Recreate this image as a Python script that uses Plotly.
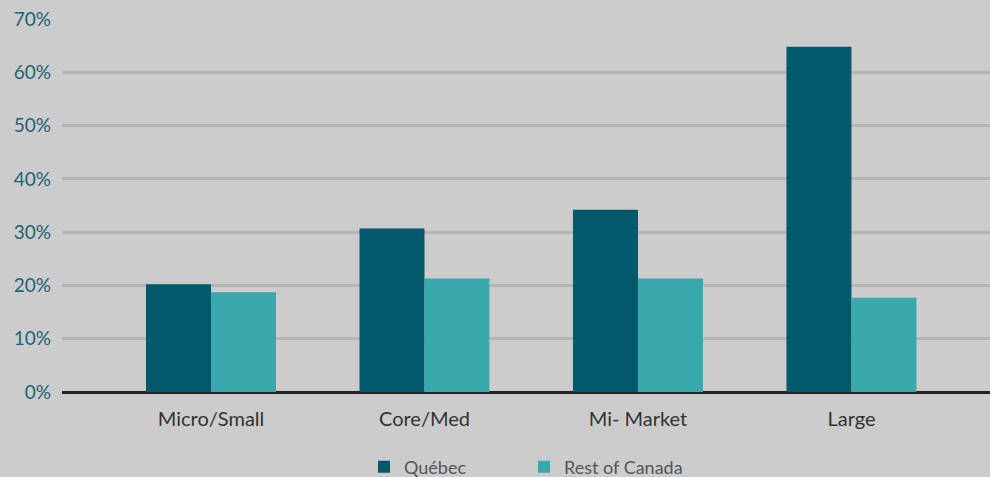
import plotly.graph_objects as go

categories = ["Micro/Small", "Core/Med", "Mi- Market", "Large"]
quebec = [20.2, 30.7, 34.2, 64.8]
rest_of_canada = [18.7, 21.3, 21.3, 17.7]
y_ticks = [0, 10, 20, 30, 40, 50, 60, 70]
y_tick_labels = [f"{v}%" for v in y_ticks]

FONT = "Lato"

fig = go.Figure()
fig.add_trace(go.Bar(name="Québec", x=categories, y=quebec, marker_color="#02596b",
                     marker_line_width=0))
fig.add_trace(go.Bar(name="Rest of Canada", x=categories, y=rest_of_canada,
                     marker_color="#3aa9ae", marker_line_width=0))

fig.update_layout(
    width=990, height=477,
    margin=dict(l=62, r=0, t=19, b=85),
    paper_bgcolor="#cccccc", plot_bgcolor="#cccccc",
    barmode="group", bargap=0.391, bargroupgap=0,
    font=dict(family=FONT, size=19, color="#333333"),
    showlegend=True,
    legend=dict(orientation="h", x=364 / 990, xanchor="left", xref="container",
                y=(477 - 467) / 477, yanchor="middle", yref="container",
                font=dict(family=FONT, size=18, color="#555555"),
                itemsizing="constant", itemwidth=30, traceorder="normal",
                entrywidth=115, entrywidthmode="pixels",
                bgcolor="rgba(0,0,0,0)"),
    xaxis=dict(range=[-0.698, 3.649], showgrid=False, showline=False,
               ticks="", tickfont=dict(family=FONT, size=20, color="#333333"),
               ticklabelstandoff=13),
    yaxis=dict(range=[0, 70], tickvals=y_ticks, ticktext=y_tick_labels,
               showgrid=True, gridcolor="#b4b4b7", gridwidth=2.5,
               zeroline=True, zerolinecolor="#222222", zerolinewidth=3,
               showline=False, ticks="",
               tickfont=dict(family=FONT, size=19, color="#1d6275"),
               ticklabelstandoff=10),
)

fig.write_html("out.html",
               config={"displayModeBar": False},
               post_script="document.body.style.margin='0';document.body.style.padding='0';")
